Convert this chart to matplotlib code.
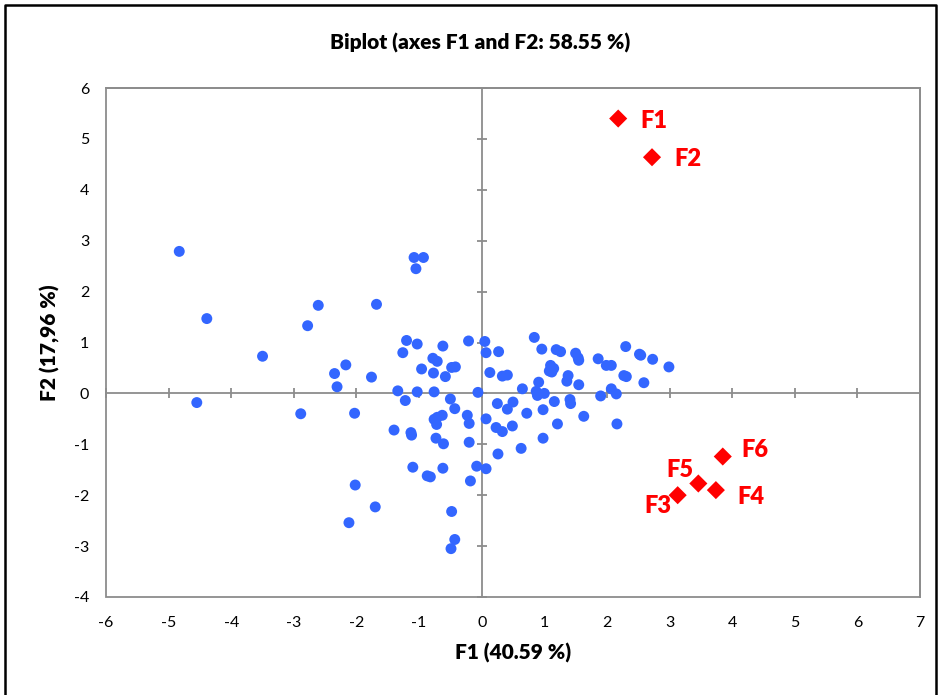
import matplotlib
matplotlib.use("Agg")
import matplotlib.pyplot as plt
from matplotlib.patches import Rectangle
from matplotlib.lines import Line2D

plt.rcParams['font.family'] = ['Lato', 'DejaVu Sans']
plt.rcParams['axes.unicode_minus'] = False

# observations (F1, F2 scores)
obs_x = [-4.83, -4.39, -3.50, -2.61, -2.78, -2.17, -2.35, -2.31, -4.55, -2.89,
         -2.03, -1.08, -0.93, -1.05, -1.68, -1.20, -1.03, -0.62, -0.21, -1.26,
         -0.78, -0.71, -0.96, -0.77, -0.58, -0.48, -0.42, -1.76, -1.34, -1.03,
         -0.76, -0.06, -1.22, -0.50, -0.43, -0.76, -0.71, -0.63, -0.72, -0.23,
         -0.20, -1.40, -1.13, -1.12, -0.73, -0.61, -0.20, -1.10, -0.87, -0.82,
         -0.62, -0.08, 0.07, -0.18, -2.02, -1.70, -2.12, -0.48, -0.43, -0.49,
         0.05, 0.07, 0.27, 0.84, 0.96, 1.19, 1.26, 1.50, 1.54, 1.55,
         1.86, 1.99, 2.07, 2.30, 2.52, 2.54, 2.73, 2.99, 0.13, 0.33,
         0.41, 1.10, 1.08, 1.15, 1.12, 1.38, 1.36, 1.55, 2.27, 2.31,
         2.59, 0.91, 0.65, 0.87, 0.89, 1.00, 1.90, 2.07, 2.15, 0.25,
         0.50, 0.41, 0.72, 0.98, 1.16, 1.41, 1.42, 1.63, 2.16, 0.07,
         0.23, 0.33, 0.49, 1.21, 0.98, 0.63, 0.26]
obs_y = [2.79, 1.47, 0.73, 1.73, 1.33, 0.56, 0.39, 0.13, -0.18, -0.40,
         -0.39, 2.67, 2.67, 2.45, 1.75, 1.04, 0.97, 0.93, 1.03, 0.80,
         0.69, 0.63, 0.48, 0.40, 0.33, 0.51, 0.52, 0.32, 0.05, 0.03,
         0.03, 0.02, -0.14, -0.11, -0.30, -0.51, -0.47, -0.43, -0.61, -0.43,
         -0.59, -0.72, -0.77, -0.82, -0.88, -0.99, -0.96, -1.45, -1.62, -1.64,
         -1.47, -1.43, -1.48, -1.72, -1.80, -2.23, -2.54, -2.32, -2.87, -3.05,
         1.02, 0.80, 0.82, 1.10, 0.87, 0.86, 0.82, 0.79, 0.70, 0.65,
         0.68, 0.55, 0.55, 0.92, 0.77, 0.75, 0.67, 0.52, 0.41, 0.34,
         0.36, 0.55, 0.44, 0.49, 0.42, 0.35, 0.24, 0.17, 0.35, 0.33,
         0.21, 0.22, 0.09, 0.04, -0.04, 0.00, -0.05, 0.09, -0.01, -0.20,
         -0.17, -0.31, -0.39, -0.32, -0.16, -0.12, -0.20, -0.45, -0.60, -0.50,
         -0.67, -0.75, -0.64, -0.60, -0.88, -1.08, -1.19]

# variables
var_names = ['F1', 'F2', 'F3', 'F4', 'F5', 'F6']
var_x = [2.18, 2.72, 3.13, 3.74, 3.46, 3.85]
var_y = [5.40, 4.64, -2.00, -1.90, -1.77, -1.24]
# label centre offsets in points
lab_off = {'F1': (26, -1.5), 'F2': (26, -1), 'F3': (-14, -7.5),
           'F4': (25, -5), 'F5': (-13, 10), 'F6': (23, 4.5)}

x_ticks = list(range(-6, 8))
y_ticks = list(range(-4, 7))

gray = '#8c8c8c'

fig = plt.figure(figsize=(9.41, 6.95), dpi=100)
ax = fig.add_axes([106 / 941, 98 / 695, 814 / 941, 509 / 695])

ax.scatter(obs_x, obs_y, s=62, color='#3366ff', edgecolors='none', zorder=3)
ax.scatter(var_x, var_y, s=85, marker='D', color='#ff0000', edgecolors='none', zorder=4)
for n, x, y in zip(var_names, var_x, var_y):
    ax.annotate(n, (x, y), xytext=lab_off[n], textcoords='offset points',
                color='#ff0000', fontsize=17, fontweight='heavy',
                va='center', ha='center')

ax.set_xlim(-6, 7)
ax.set_ylim(-4, 6)
ax.set_xticks(x_ticks)
ax.set_yticks(y_ticks)

# axes crossing at zero, tick marks through them
ax.spines['left'].set_position(('data', 0))
ax.spines['bottom'].set_position(('data', 0))
for s in ax.spines.values():
    s.set_color(gray)
    s.set_linewidth(1.3)
ax.tick_params(direction='inout', length=7, width=1.3, color=gray,
               labelleft=False, labelbottom=False)
ax.add_patch(Rectangle((0, 0), 1, 1, transform=ax.transAxes, fill=False,
                       edgecolor=gray, linewidth=1.3, zorder=2, clip_on=False))

# tick labels at the edges of the plot area
secx = ax.secondary_xaxis('bottom')
secx.set_xticks(x_ticks)
secx.tick_params(length=0, pad=14, labelsize=11.5)
secx.spines['bottom'].set_visible(False)
secy = ax.secondary_yaxis('left')
secy.set_yticks(y_ticks)
secy.tick_params(length=0, pad=12, labelsize=11.5)
secy.spines['left'].set_visible(False)

secx.set_xlabel('F1 (40.59 %)', fontsize=15, fontweight='heavy', labelpad=9)
secy.set_ylabel('F2 (17,96 %)', fontsize=15, fontweight='heavy', labelpad=10)
fig.text(480 / 941, 1 - 43 / 695, 'Biplot (axes F1 and F2: 58.55 %)',
         ha='center', va='center', fontsize=15, fontweight='heavy')

# outer chart border (bottom cut off in the reference)
bx = [5 / 941, 5 / 941, 936 / 941, 936 / 941]
by = [0, 1 - 5 / 695, 1 - 5 / 695, 0]
fig.add_artist(Line2D(bx, by, color='black', linewidth=1.8))

fig.savefig('out.png', dpi=100)
